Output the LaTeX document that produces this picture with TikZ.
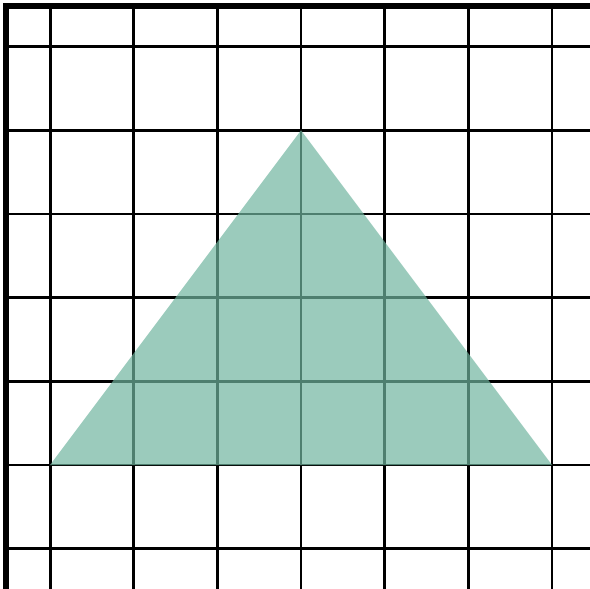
\documentclass[tikz,border=0pt]{standalone}
\definecolor{tealfill}{RGB}{112,181,159}
\begin{document}
\begin{tikzpicture}[x=1cm,y=1cm]
\useasboundingbox (-0.598,-1.482) rectangle (6.454,5.558);
% grid
\foreach \x in {0,...,6}
  \draw[line width=1pt] (\x,-1.6) -- (\x,5.486);
\foreach \y in {-1,...,5}
  \draw[line width=1pt] (-0.526,\y) -- (6.6,\y);
% thick border, top and left
\draw[line width=2.2pt] (-0.526,-1.6) -- (-0.526,5.486) -- (6.6,5.486);
% triangle
\coordinate (A) at (0,0);
\coordinate (B) at (6,0);
\coordinate (C) at (3,4);
\fill[tealfill,fill opacity=0.7] (A) -- (B) -- (C) -- cycle;
\end{tikzpicture}
\end{document}
